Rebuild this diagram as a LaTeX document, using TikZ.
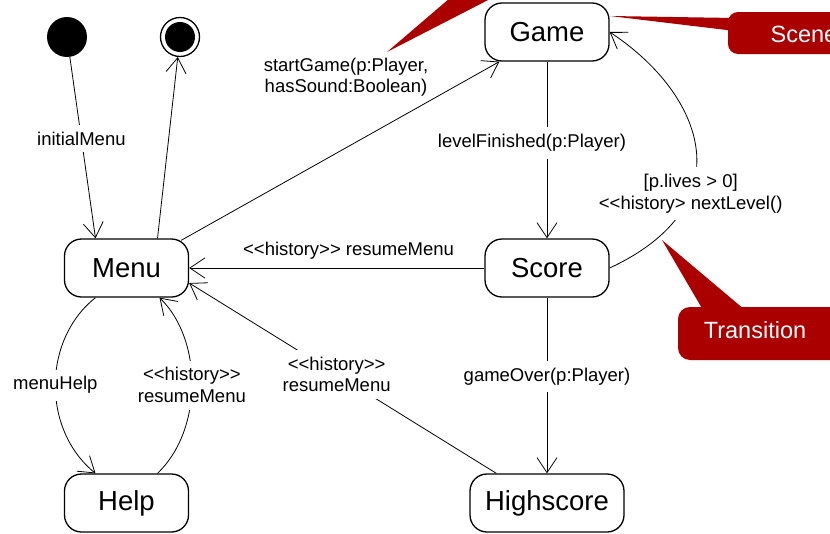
\documentclass[tikz,border=0pt]{standalone}
\usepackage{fontspec}
\setmainfont{Liberation Sans}
\usetikzlibrary{arrows.meta}
\definecolor{noteRed}{RGB}{170,0,0}
\begin{document}
\begin{tikzpicture}[x=1pt,y=-1pt,
    state/.style={draw, line width=1.3pt, rounded corners=17pt,
        minimum width=124pt, minimum height=58pt,
        font=\fontsize{27.5}{30}\selectfont},
    trans/.style={line width=0.8pt,
        -{Straight Barb[length=15pt,width=20pt,line width=0.8pt]}},
    lbl/.style={fill=white, inner xsep=2pt, inner ysep=7pt, align=center,
        font=\fontsize{18.5}{21.5}\selectfont},
    note/.style={fill=noteRed},
    notetext/.style={text=white, font=\fontsize{23.5}{26}\selectfont}]
    \useasboundingbox (0,0) rectangle (830,533);
    %Pseudo states
    \node[circle, fill, minimum size=40pt, inner sep=0pt] (init) at (67,37) {};
    \node[circle, draw, line width=1.3pt, minimum size=39pt, inner sep=0pt] (final) at (180,37) {};
    \fill (final.center) circle (15);
    %States
    \node[state] (game) at (547,32) {Game};
    \node[state] (menu) at (126.5,268) {Menu};
    \node[state] (score) at (547,268) {Score};
    \node[state] (help) at (126.5,503) {Help};
    \node[state, minimum width=154pt] (highscore) at (547,503) {Highscore};
    %Menu transitions
    \draw[trans] (init) -- node[lbl, pos=0.45]{initialMenu} ([xshift=-31pt]menu.north);
    \draw[trans] ([xshift=31pt]menu.north) -- (final);
    \draw[trans] ([xshift=-8pt,yshift=-2pt]menu.north east) -- ([xshift=15pt]game.south west);
    \node[lbl, fill=none] (startlbl) at (346,77) {startGame(p:Player,\\hasSound:Boolean)};
    \draw[trans] ([xshift=-31pt]menu.south) .. controls (42,340) and (42,430) ..
        node[lbl]{menuHelp} ([xshift=-31pt]help.north);
    \draw[trans] ([xshift=31pt]help.north) .. controls (203,430) and (203,340) ..
        node[lbl]{<{}<history>{}>\\resumeMenu} ([xshift=33pt]menu.south);
    %Game transitions
    \draw[trans] (game) -- node[lbl, pos=0.46, xshift=-15pt]{levelFinished(p:Player)} (score);
    \draw[trans] (score.east) .. controls (745,205) and (705,95) ..
        node[lbl, pos=0.33]{[p.lives > 0]\\<{}<history> nextLevel()} (game.east);
    \draw[trans] (score.west) -- node[lbl, fill=none, above=1pt, pos=0.46]{<{}<history>{}> resumeMenu} (menu.east);
    \draw[trans] (score) -- node[lbl, pos=0.45]{gameOver(p:Player)} (highscore);
    \draw[trans] ([xshift=27pt]highscore.north west) --
        node[lbl, pos=0.52]{<{}<history>{}>\\resumeMenu} ([yshift=-15pt]menu.east);
    %Notes
    \fill[note] (387,52) -- (450,-2) -- (492,-2) -- cycle;
    \fill[note] (610,16) -- (735,18) -- (735,31) -- cycle;
    \fill[note, rounded corners=10pt] (728,12) rectangle (880,54);
    \node[notetext] (scene) at (804,34) {Scene};
    \fill[note] (662,240) -- (703,310) -- (745,310) -- cycle;
    \fill[note, rounded corners=12pt] (678,307) rectangle (880,360);
    \node[notetext] (transition) at (755,330) {Transition};
\end{tikzpicture}
\end{document}
